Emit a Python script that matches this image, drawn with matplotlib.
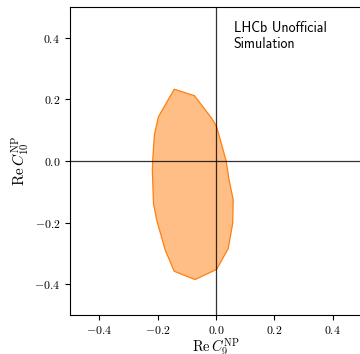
import matplotlib
matplotlib.use("Agg")
import matplotlib.pyplot as plt
import numpy as np

# contour of the allowed region (Re C9 NP, Re C10 NP)
c9_contour = [-0.143, -0.074, -0.015, 0.002, 0.034, 0.045, 0.059, 0.057, 0.042,
              0.002, -0.072, -0.143, -0.174, -0.203, -0.214, -0.218, -0.216,
              -0.211, -0.197]
c10_contour = [0.233, 0.212, 0.139, 0.112, 0.003, -0.062, -0.127, -0.203, -0.284,
               -0.352, -0.385, -0.358, -0.289, -0.192, -0.138, -0.029, 0.014,
               0.085, 0.144]

ticks = [-0.4, -0.2, 0.0, 0.2, 0.4]

plt.rcParams['font.family'] = 'cmr10'
plt.rcParams['mathtext.fontset'] = 'cm'
plt.rcParams['axes.formatter.use_mathtext'] = True

fig = plt.figure(figsize=(3.6, 3.54), dpi=100)
ax = fig.add_axes([70 / 360, 39 / 354, 292 / 360, 308 / 354])

ax.fill(c9_contour, c10_contour, facecolor='#ff7f0e', alpha=0.5, edgecolor='none')
ax.fill(c9_contour, c10_contour, facecolor='none', edgecolor='#ff7f0e', lw=0.9)

ax.axhline(0, color='black', lw=0.9, alpha=0.8)
ax.axvline(0, color='black', lw=0.9, alpha=0.8)

ax.set_xlim(-0.5, 0.5)
ax.set_ylim(-0.5, 0.5)
ax.set_xticks(ticks)
ax.set_yticks(ticks)
ax.tick_params(labelsize=8.5, length=3.5, width=0.8)
ax.tick_params(axis='x', pad=3)
ax.set_xlabel(r'$\mathrm{Re}\,C_9^{\mathrm{NP}}$', fontsize=10.5, labelpad=0)
ax.set_ylabel(r'$\mathrm{Re}\,C_{10}^{\mathrm{NP}}$', fontsize=11, labelpad=2)

ax.text(0.56, 0.955, 'LHCb Unofficial\nSimulation', transform=ax.transAxes,
        fontsize=10, va='top', ha='left', family='cmss10')

fig.savefig('out.png', dpi=100)
